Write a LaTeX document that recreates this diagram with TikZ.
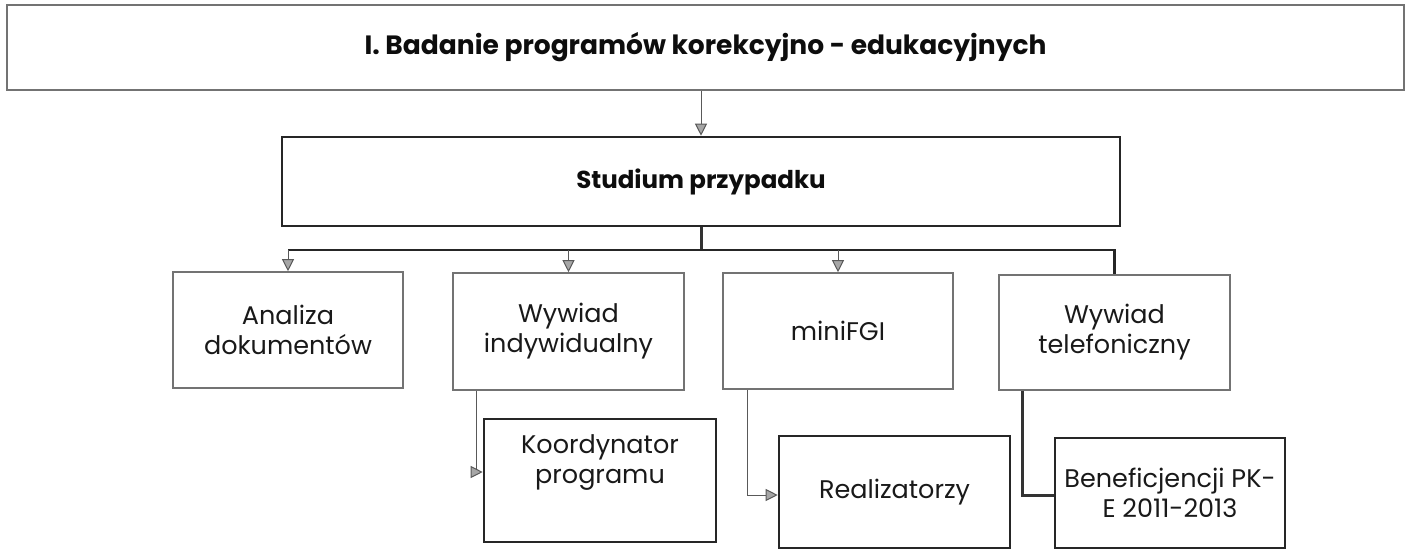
\documentclass[tikz,border=0pt]{standalone}
\usepackage{fontspec}
\setmainfont{Poppins}
\usetikzlibrary{arrows.meta,calc}
\begin{document}
\begin{tikzpicture}[x=1pt,y=-1pt,
  txtfont/.style={font=\fontsize{25.5}{30}\selectfont, text=black!90},
  boldfont/.style={font=\bfseries\fontsize{24.5}{30}\selectfont, text=black!95},
  thinbox/.style={rectangle, draw=black!55, line width=1.6pt, inner sep=0pt, align=center, txtfont},
  thickbox/.style={rectangle, draw=black!85, line width=2.6pt, inner sep=0pt, align=center, txtfont},
  plaintext/.style={inner sep=0pt, align=center, txtfont},
  arrowthin/.style={draw=black!65, line width=1pt, -{Triangle[width=12pt,length=12pt,fill=black!35]}},
  busline/.style={draw=black!85, line width=2.4pt},
  linethick/.style={draw=black!80, line width=3pt}
]
\useasboundingbox (0,0) rectangle (1409,550);

% boxes
\node[thinbox, minimum width=1397pt, minimum height=85pt, boldfont, font=\bfseries\fontsize{26.5}{30}\selectfont] (top) at (705.5,47.5) {I. Badanie programów korekcyjno - edukacyjnych};
\node[thickbox, minimum width=838pt, minimum height=89pt, boldfont] (stud) at (701,181.5) {Studium przypadku};

\node[thinbox, minimum width=230pt, minimum height=116pt] (ana) at (288,330) {Analiza\\dokumentów};
\node[thinbox, minimum width=231pt, minimum height=117pt] (ind) at (568.5,331.5) {Wywiad\\indywidualny};
\node[thinbox, minimum width=230pt, minimum height=116pt] (fgi) at (838,331) {miniFGI};
\node[thinbox, minimum width=231pt, minimum height=115pt] (tel) at (1114.5,332.5) {Wywiad\\telefoniczny};

\node[thickbox, minimum width=232pt, minimum height=123pt] (koo) at (600,480.5) {};
\node[plaintext] (kootxt) at (600,462) {Koordynator\\programu};
\node[thickbox, minimum width=231pt, minimum height=112pt] (rea) at (894.5,492) {Realizatorzy};
\node[thickbox, minimum width=230pt, minimum height=110pt] (ben) at (1170,493) {Beneficjencji PK-\\E 2011-2013};

% connectors
\coordinate (bus) at (0,250);
\draw[arrowthin] (top.south -| stud.north) -- (stud.north);
\draw[linethick] (stud.south) -- (stud.south |- bus);
\draw[busline] (ana.north |- bus) -- (tel.north |- bus) -- (tel.north);
\draw[arrowthin] (ana.north |- bus) -- (ana.north);
\draw[arrowthin] (ind.north |- bus) -- (ind.north);
\draw[arrowthin] (fgi.north |- bus) -- (fgi.north);

\coordinate (indout) at ($(ind.south west)+(24,0)$);
\coordinate (fgiout) at ($(fgi.south west)+(25,0)$);
\coordinate (telout) at ($(tel.south west)+(24,0)$);
\draw[arrowthin] (indout) |- ($(koo.west)+(0,-8.5)$);
\draw[arrowthin] (fgiout) |- ($(rea.west)+(0,3)$);
\draw[linethick] (telout) |- ($(ben.west)+(0,2)$);
\end{tikzpicture}
\end{document}
